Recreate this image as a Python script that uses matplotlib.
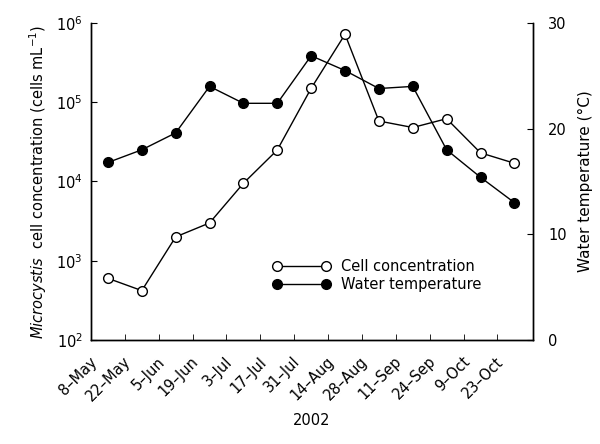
import matplotlib
matplotlib.use("Agg")
import matplotlib.pyplot as plt
import matplotlib.transforms as mtransforms
import numpy as np

dates = ["8\u2013May", "22\u2013May", "5\u2013Jun", "19\u2013Jun", "3\u2013Jul", "17\u2013Jul",
         "31\u2013Jul", "14\u2013Aug", "28\u2013Aug", "11\u2013Sep", "24\u2013Sep",
         "9\u2013Oct", "23\u2013Oct"]
cells = [600, 420, 2000, 3000, 9500, 25000, 150000, 720000,
         58000, 48000, 62000, 23000, 17000]
temp = [16.8, 18.0, 19.6, 24.0, 22.4, 22.4, 26.9, 25.5,
        23.8, 24.0, 18.0, 15.4, 13.0]

plt.rcParams['font.family'] = ['DejaVu Sans']
plt.rcParams['mathtext.fontset'] = 'dejavusans'

fig = plt.figure(figsize=(6, 4.44), dpi=100)
ax = fig.add_axes([91 / 600, 1 - 340 / 444, 442 / 600, 317 / 444])
ax2 = ax.twinx()

x = np.arange(len(dates))
l1, = ax.plot(x, cells, '-o', color='black', lw=1, ms=7,
              mfc='white', mec='black', mew=1, zorder=3)
l2, = ax2.plot(x, temp, '-o', color='black', lw=1, ms=7,
               mfc='black', mec='black')

ax.set_yscale('log')
ax.set_ylim(1e2, 1e6)
ax.set_xlim(-0.5, len(dates) - 0.45)
ax.minorticks_off()
ax2.set_ylim(0, 30)
ax2.set_yticks([0, 10, 20, 30])

ax.set_xticks(x, dates, rotation=45, ha='right')
ax.set_xticks(x[:-1] + 0.5, minor=True)
ax.tick_params(axis='x', which='major', length=0, pad=10, labelsize=10.5)
ax.tick_params(axis='x', which='minor', direction='in', length=4)
ax.tick_params(axis='y', direction='in', length=4, pad=6, labelsize=10.5)
ax2.tick_params(axis='y', direction='in', length=4, pad=11, labelsize=10.5)
offset = mtransforms.ScaledTranslation(-8 / 100, 0, fig.dpi_scale_trans)
for lab in ax.get_xticklabels():
    lab.set_transform(lab.get_transform() + offset)

for a in (ax, ax2):
    a.spines['top'].set_visible(False)
    for s in a.spines.values():
        s.set_linewidth(1)

ax.set_ylabel(r"$\it{Microcystis}$  cell concentration (cells mL$^{-1}$)",
              fontsize=10.5, labelpad=5)
ax2.set_ylabel("Water temperature (\u00b0C)", fontsize=11, labelpad=8)
ax.set_xlabel("2002", fontsize=10.5, labelpad=6)

ax.legend([l1, l2], ['Cell concentration', 'Water temperature'],
          loc='upper left', bbox_to_anchor=(0.41, 0.255), frameon=False,
          numpoints=2, handlelength=4.0, fontsize=10.5, borderpad=0,
          borderaxespad=0, labelspacing=0.2, handletextpad=0.7)

fig.savefig("out.png", dpi=100)
